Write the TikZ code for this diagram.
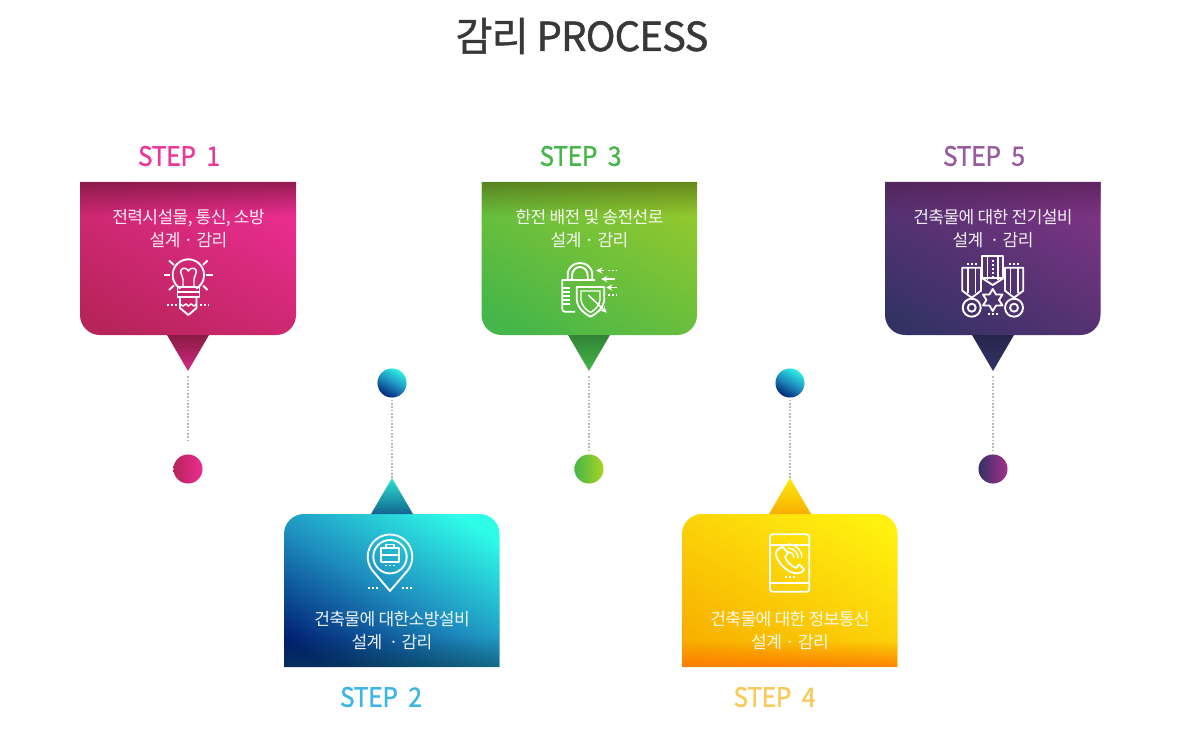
\documentclass[tikz,border=0pt]{standalone}
\usepackage{fontspec}
\newfontfamily\krfont[LetterSpace=-3.5]{Noto Sans CJK KR}
\newfontfamily\headfont[FakeBold=1.2,LetterSpace=-2]{Noto Sans CJK KR}
\newfontfamily\stepfont[FakeBold=1.2,FakeStretch=0.92,LetterSpace=-1]{Noto Sans CJK KR}
\usetikzlibrary{fadings,shapes.geometric}

\definecolor{pinkhi}{HTML}{EC2D92}
\definecolor{pinklo}{HTML}{B7245A}
\definecolor{bluehi}{HTML}{2FFCE8}
\definecolor{bluemid}{HTML}{1E8FC0}
\definecolor{bluelo}{HTML}{001B70}
\definecolor{greenhi}{HTML}{95C92D}
\definecolor{greenlo}{HTML}{45B649}
\definecolor{yellowhi}{HTML}{FFF00F}
\definecolor{yellowlo}{HTML}{F7AE00}
\definecolor{purplehi}{HTML}{7F3384}
\definecolor{purplelo}{HTML}{343265}

\pgfdeclareverticalshading{shadepink}{100bp}{color(0bp)=(pinklo); color(22bp)=(pinklo); color(78bp)=(pinkhi); color(100bp)=(pinkhi)}
\pgfdeclareverticalshading{shadeblue}{100bp}{color(0bp)=(bluelo); color(22bp)=(bluelo); color(50bp)=(bluemid); color(78bp)=(bluehi); color(100bp)=(bluehi)}
\pgfdeclareverticalshading{shadegreen}{100bp}{color(0bp)=(greenlo); color(22bp)=(greenlo); color(78bp)=(greenhi); color(100bp)=(greenhi)}
\pgfdeclareverticalshading{shadeyellow}{100bp}{color(0bp)=(yellowlo); color(22bp)=(yellowlo); color(78bp)=(yellowhi); color(100bp)=(yellowhi)}
\pgfdeclareverticalshading{shadepurple}{100bp}{color(0bp)=(purplelo); color(22bp)=(purplelo); color(78bp)=(purplehi); color(100bp)=(purplehi)}

\tikzfading[name=bandtop,top color=transparent!35,bottom color=transparent!100]
\tikzfading[name=bandbottom,top color=transparent!100,bottom color=transparent!25]

\tikzset{
  steplabel/.style={font=\stepfont\fontsize{20}{24}\selectfont},
  boxtext/.style={text=white,text opacity=.92,align=center,font=\krfont\fontsize{12.8}{17.25}\selectfont},
  dotline/.style={draw=black!28,line width=1.1pt,dash pattern=on 1.2pt off 1.3pt},
  dotball/.style={circle,minimum size=21.8pt,inner sep=0pt},
  icon/.style={draw=white,line width=1.4pt,line join=round},
  iconthin/.style={draw=white,line width=1.1pt},
  icondots/.style={draw=white,line width=1.4pt,dash pattern=on 1.5pt off 1.5pt},
}

\begin{document}
\begin{tikzpicture}[x=0.75pt,y=-0.75pt]
\useasboundingbox (0,0) rectangle (1184,734);

% --- Titolo ---
\node[text=black!78,font=\headfont\fontsize{30}{36}\selectfont] (title) at (582,36) {감리 PROCESS};

% --- Step 1 ---
\node[steplabel,text=pinkhi!95!white] (label1) at (179,156) {STEP\ \ 1};
\shade[shading=shadepink,shading angle=-30] (80,182) -- (296,182) [rounded corners=15pt] -- (296,335) -- (80,335) [sharp corners] -- cycle;
\fill[black!45!pinklo,path fading=bandtop] (80,182) rectangle (296,216);
\shade[top color=black!25!pinklo,bottom color=pinkhi!90!black] (167,335) -- (209,335) -- (188,371) -- cycle;
\coordinate (tip1) at (188,371);
\node[dotball,left color=pinklo,right color=pinkhi] (dot1) at (188,469) {};
\draw[dotline,shorten <=4pt,shorten >=9pt] (tip1) -- (dot1);
\node[boxtext] (text1) at (188.5,228.5) {전력시설물, 통신, 소방\\설계 · 감리};

% lampadina
\draw[icon] (180.5,288.6) arc[start angle=-240,end angle=60,radius=15.7];
\draw[iconthin] (183,287) -- (183,279) .. controls (183,276) and (180,274) .. (181,270) .. controls (183,267) and (187,268) .. (188.3,271) .. controls (190,268) and (194,267) .. (196,270) .. controls (197,274) and (194,276) .. (194,279) -- (194,287);
\draw[icon] (177.5,287) rectangle (199.5,292);
\draw[icon] (177.5,292) rectangle (199.5,297);
\draw[icon] (180,297) -- (180,308) -- (188.3,315) -- (196.5,308) -- (196.5,297);
\draw[iconthin] (180,304) -- (183,306) -- (186,304) -- (188.3,306) -- (191,304) -- (194,306) -- (196.5,304);
\draw[icon] (164,275) -- (170,275) (206,275) -- (212.5,275);
\draw[icon] (169,260.5) -- (174,265) (207.5,260.5) -- (203,265);
\draw[icon] (169,290) -- (174,285.5) (207.5,290) -- (203,285.5);
\draw[icondots] (167,305) -- (177,305) (200,305) -- (209,305);

% --- Step 2 ---
\node[steplabel,text={rgb,255:red,61;green,181;blue,230}] (label2) at (381,697) {STEP\ \ 2};
\shade[shading=shadeblue,shading angle=-30] (284,667) -- (499.5,667) [rounded corners=15pt] -- (499.5,514) -- (284,514) [sharp corners] -- cycle;
\fill[bluehi!30!black,path fading=bandbottom,opacity=.6] (284,636) rectangle (499.5,667);
\shade[top color=bluehi!90!black,bottom color=bluehi!50!black!80!blue] (371,514) -- (413,514) -- (392,478) -- cycle;
\coordinate (tip2) at (392,478);
\node[dotball,shading=shadeblue,shading angle=-30] (dot2) at (392,383) {};
\draw[dotline,shorten <=0pt,shorten >=2pt] (tip2) -- (dot2);
\node[boxtext] (text2) at (392,630.5) {건축물에 대한소방설비\\설계\ \ · 감리};

% spilla con valigetta
\draw[icon] (390,591) -- (372.2,570.2) arc[start angle=143,end angle=397,radius=22.3] -- cycle;
\draw[icon] (390,556.7) circle[radius=16.7];
\draw[icon] (381,548) rectangle (399,562);
\draw[iconthin] (386,548) -- (386,544.5) -- (394,544.5) -- (394,548);
\draw[iconthin] (381,555) -- (399,555);
\draw[icondots] (385,565.5) -- (395,565.5);
\draw[icondots] (368,587.7) -- (378,587.7) (402,587.7) -- (412,587.7);

% --- Step 3 ---
\node[steplabel,text=greenlo] (label3) at (580.5,156) {STEP\ \ 3};
\shade[shading=shadegreen,shading angle=-30] (481.5,182) -- (697,182) [rounded corners=15pt] -- (697,335) -- (481.5,335) [sharp corners] -- cycle;
\fill[black!50!greenhi,path fading=bandtop] (481.5,182) rectangle (697,216);
\shade[top color=black!28!greenlo,bottom color=greenlo] (568,335) -- (610,335) -- (589,371) -- cycle;
\coordinate (tip3) at (589,371);
\node[dotball,left color=greenlo,right color=greenhi!80!yellow] (dot3) at (589,469) {};
\draw[dotline,shorten <=4pt,shorten >=1pt] (tip3) -- (dot3);
\node[boxtext] (text3) at (589.5,228.5) {한전 배전 및 송전선로\\설계 · 감리};

% lucchetto e scudo
\draw[icon] (575,311.7) -- (565,311.7) .. controls (563,311.7) and (562.3,310.5) .. (562.3,309) -- (562.3,280) -- (595,280);
\draw[icon] (567.7,280) -- (567.7,275) .. controls (567.7,259) and (592.3,259) .. (592.3,275) -- (592.3,280);
\draw[icon] (572,280) -- (572,276) .. controls (572,264) and (587.7,264) .. (587.7,276) -- (587.7,280);
\draw[icon] (576.7,287) -- (604.3,287) -- (604.3,300) .. controls (603,309) and (596,314) .. (590.5,316.7) .. controls (585,314) and (578,309) .. (576.7,300) -- cycle;
\draw[iconthin] (581,291) -- (600,291) -- (600,300) .. controls (599,306) and (595,310) .. (590.5,312.5) .. controls (586,310) and (582,306) .. (581,300) -- cycle;
\draw[iconthin] (563,288) -- (570,288) (563,292) -- (570,292) (563,296) -- (570,296) (563,300) -- (570,300) (563,304) -- (570,304);
\draw[iconthin,-stealth] (604,270.5) -- (596,270.5);
\draw[iconthin,-stealth] (615,279) -- (601,279);
\draw[iconthin,-stealth] (617,287.5) -- (606,287.5);
\draw[icondots,line width=1pt] (608,270.5) -- (617,270.5) (608,295) -- (617,295);
\draw[iconthin,-stealth] (588.3,295) -- (606.7,312.7);

% --- Step 4 ---
\node[steplabel,text=yellowlo!65!white] (label4) at (774.5,697) {STEP\ \ 4};
\shade[shading=shadeyellow,shading angle=-30] (682,667) -- (897.5,667) [rounded corners=15pt] -- (897.5,514) -- (682,514) [sharp corners] -- cycle;
\fill[orange!85!red,path fading=bandbottom] (682,640) rectangle (897.5,667);
\shade[top color=yellowhi!95!orange,bottom color=yellowlo] (769,514) -- (811,514) -- (790,478) -- cycle;
\coordinate (tip4) at (790,478);
\node[dotball,shading=shadeblue,shading angle=-30] (dot4) at (790,383) {};
\draw[dotline,shorten <=0pt,shorten >=2pt] (tip4) -- (dot4);
\node[boxtext] (text4) at (790,630.5) {건축물에 대한 정보통신\\설계 · 감리};

% telefono
\draw[icon,rounded corners=2pt] (770,534.3) rectangle (809.3,591.7);
\draw[icon] (770,545) -- (809.3,545) (770,582.7) -- (809.3,582.7);
\draw[icondots] (785,577.3) -- (795,577.3);
\draw[icon] (783,547) -- (788,553) -- (785,557) .. controls (787,562) and (791,566) .. (796,568) -- (799,564.5) -- (804.3,569.5) .. controls (802,573) and (798,574) .. (794,573) .. controls (786,571) and (778,563) .. (776,555) .. controls (775.5,551) and (778,548) .. (783,547) -- cycle;
\draw[iconthin] (788,552) arc[start angle=-90,end angle=0,radius=6];
\draw[iconthin] (788,548) arc[start angle=-90,end angle=0,radius=10];
\draw[iconthin] (788,544) arc[start angle=-90,end angle=0,radius=14];

% --- Step 5 ---
\node[steplabel,text=purplehi!80!white] (label5) at (984,156) {STEP\ \ 5};
\shade[shading=shadepurple,shading angle=-30] (885,182) -- (1100.5,182) [rounded corners=15pt] -- (1100.5,335) -- (885,335) [sharp corners] -- cycle;
\fill[black!40!purplehi,path fading=bandtop] (885,182) rectangle (1100.5,216);
\shade[top color=black!25!purplelo,bottom color=purplelo] (972,335) -- (1014,335) -- (993,371) -- cycle;
\coordinate (tip5) at (993,371);
\node[dotball,left color=purplelo,right color={rgb,255:red,166;green,47;blue,140}] (dot5) at (993,469) {};
\draw[dotline,shorten <=4pt,shorten >=1pt] (tip5) -- (dot5);
\node[boxtext] (text5) at (993,228.5) {건축물에 대한 전기설비\\설계\ \ · 감리};

% medaglie
\draw[icon] (982.3,256) rectangle (1003.3,278.3);
\draw[icon] (982.3,278.3) -- (992.7,285) -- (1003.3,278.3);
\draw[icondots] (992.7,260) -- (992.7,278);
\draw[iconthin] (987.5,256) -- (987.5,280) (998,256) -- (998,280);
\draw[icon] (962.3,267.7) -- (981,267.7) -- (981,290.7) -- (971.7,297.7) -- (962.3,290.7) -- cycle;
\draw[iconthin] (968,268) -- (968,293) (975.5,268) -- (975.5,293);
\draw[icon] (1005,267.7) -- (1023.3,267.7) -- (1023.3,290.7) -- (1014,297.7) -- (1005,290.7) -- cycle;
\draw[iconthin] (1010.5,268) -- (1010.5,293) (1018,268) -- (1018,293);
\draw[icon] (971.7,307.7) circle[radius=9] (971.7,307.7) circle[radius=4];
\draw[icon] (1014,307.7) circle[radius=9] (1014,307.7) circle[radius=4];
\draw[icon] (992.7,289) -- (996,294.5) -- (1002.5,294.5) -- (999,300) -- (1002.5,305.5) -- (996,305.5) -- (992.7,311) -- (989.4,305.5) -- (983,305.5) -- (986.4,300) -- (983,294.5) -- (989.4,294.5) -- cycle;
\draw[icondots] (967,264) -- (977,264) (1009,264) -- (1019,264) (988,314) -- (998,314);

\end{tikzpicture}
\end{document}
